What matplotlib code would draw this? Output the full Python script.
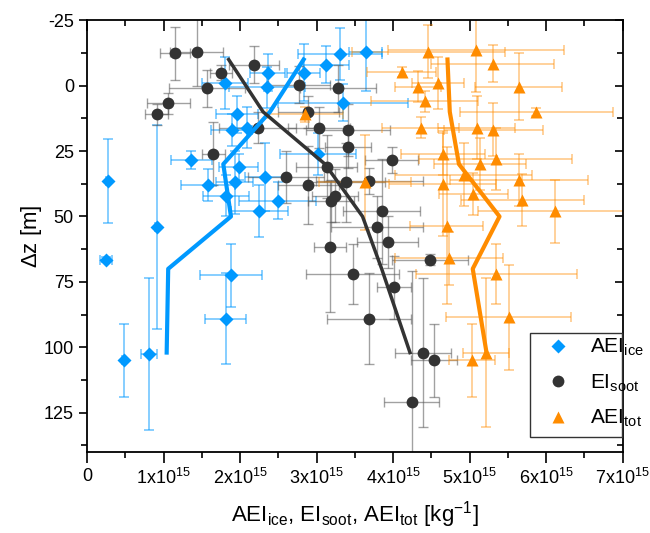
import matplotlib
matplotlib.use("Agg")
import matplotlib.pyplot as plt
from matplotlib.patches import Rectangle
import numpy as np

plt.rcParams['font.family'] = ['Liberation Sans', 'DejaVu Sans']
plt.rcParams['mathtext.fontset'] = 'custom'
plt.rcParams['mathtext.rm'] = 'Liberation Sans'
plt.rcParams['mathtext.it'] = 'Liberation Sans'
plt.rcParams['mathtext.bf'] = 'Liberation Sans:bold'
plt.rcParams['axes.unicode_minus'] = False

# ---- data (x in units of 1e15 kg^-1, dz in m) ----
ice_x = [0.27, 0.25, 0.48, 0.81, 0.91, 1.88, 1.81, 1.36, 1.58, 1.81, 1.93, 1.98, 2.25, 2.49,
         2.32, 3.02, 1.96, 1.89, 2.09, 1.80, 2.36, 2.35, 2.83, 3.12, 3.30, 3.64, 3.34]
ice_z = [36.5, 66.5, 105, 102.5, 54, 72.5, 89, 28.5, 38, 42, 37, 31, 48, 44,
         35, 26, 11, 17, 16, -1, -5, 0.7, -5, -8, -12, -13, 6.5]
ice_xerr = [0.02, 0.08, 0.02, 0.1, 0.02, 0.41, 0.27, 0.27, 0.35, 0.3, 0.24, 0.25, 0.37, 0.5,
            0.26, 0.5, 0.28, 0.27, 0.2, 0.3, 0.23, 0.5, 0.22, 0.3, 0.55, 0.22, 0.85]
ice_zerr = [16, 1, 14, 29, 39, 12, 17.5, 3.5, 6, 8, 12, 5, 10, 7,
            13, 8, 7, 6, 8, 10, 7, 8, 11, 7, 10, 15, 7]

soot_x = [1.15, 1.43, 1.75, 1.57, 1.06, 0.91, 2.18, 2.77, 1.65, 2.23, 2.60, 2.89, 3.03, 3.13,
          3.24, 3.19, 3.28, 2.89, 3.41, 3.41, 3.98, 3.39, 3.69, 3.85, 3.79, 3.93, 3.17, 3.47,
          4.01, 3.68, 4.48, 4.39, 4.53, 4.24]
soot_z = [-12.3, -13, -5, 1, 6.8, 11, -8, -0.4, 26, 16, 35, 38, 16, 31,
          42, 44, 1, 10, 17, 23.5, 28.5, 37, 36.5, 48, 54, 59.8, 61.6, 72,
          77, 89, 66.5, 102, 105, 121]
soot_xerr = [0.2, 0.35, 0.15, 0.5, 0.28, 0.15, 0.33, 0.4, 0.15, 0.5, 0.5, 0.4, 0.4, 0.4,
             0.3, 0.3, 0.5, 0.4, 0.55, 0.3, 0.35, 0.5, 0.7, 0.5, 0.6, 0.4, 0.21, 0.61,
             0.22, 0.55, 0.5, 0.36, 0.3, 0.36]
soot_zerr = [10, 13, 3, 7, 4, 4, 7, 7, 12, 6, 10, 15, 8, 12,
             10, 8, 9, 6, 10, 8, 5, 15, 5, 20, 12, 10, 25, 11.5,
             12, 17.5, 2, 28.5, 14, 50]

tot_x = [4.46, 5.08, 5.30, 4.11, 4.33, 4.58, 5.64, 4.41, 5.87, 2.85, 4.36, 5.09, 5.31, 4.65,
         5.13, 5.34, 4.92, 5.64, 4.65, 5.05, 5.69, 6.11, 3.63, 4.70, 4.73, 5.35, 5.51, 5.03, 5.21]
tot_z = [-13, -13.7, -8.4, -5.3, 0.4, -1, 0.4, 6, 10, 11, 16, 16, 16.8, 26,
         30, 28, 34, 36, 37.5, 41.3, 43.7, 48, 37, 53.6, 66, 72, 88.5, 105, 102]
tot_xerr = [1.0, 1.15, 0.8, 0.45, 0.3, 0.34, 0.57, 0.7, 1.0, 0.5, 0.5, 0.5, 0.65, 0.55,
            0.6, 1.0, 0.9, 0.9, 0.7, 0.45, 0.8, 1.0, 0.6, 0.48, 0.7, 1.05, 0.82, 0.3, 0.3]
tot_zerr = [10, 16, 7, 2, 6, 10, 12.7, 4, 1.5, 3, 4, 12, 10, 8,
            10, 12, 12, 10, 20, 8, 10, 12, 18, 30, 10, 11.6, 20, 14, 28.5]

# binned profiles
bin_z = [-10, 10, 30, 50, 70, 102]
ice_line = [2.83, 2.39, 1.78, 1.88, 1.06, 1.04]
soot_line = [1.85, 2.30, 3.11, 3.60, 3.85, 4.22]
tot_line = [4.71, 4.74, 4.86, 5.39, 5.04, 5.22]

xtick_vals = [0, 1, 2, 3, 4, 5, 6, 7]
xtick_labels = ['0'] + [r'%dx10$^{15}$' % v for v in xtick_vals[1:]]
ytick_vals = [-25, 0, 25, 50, 75, 100, 125]

c_ice = '#0099FF'
c_soot = '#333333'
c_tot = '#FF8C00'

W, H = 650, 533
fig = plt.figure(figsize=(6.5, 5.33), dpi=100)
ax = fig.add_axes([0.134, 0.152, 0.824, 0.810])

ax.errorbar(ice_x, ice_z, xerr=ice_xerr, yerr=ice_zerr, fmt='none', ecolor=c_ice,
            alpha=0.6, elinewidth=1.1, capsize=3.5, capthick=1.1, zorder=2)
ax.errorbar(soot_x, soot_z, xerr=soot_xerr, yerr=soot_zerr, fmt='none', ecolor='#555555',
            alpha=0.55, elinewidth=1.0, capsize=3.5, capthick=1.0, zorder=2)
ax.errorbar(tot_x, tot_z, xerr=tot_xerr, yerr=tot_zerr, fmt='none', ecolor=c_tot,
            alpha=0.5, elinewidth=1.1, capsize=3.5, capthick=1.1, zorder=2)

ax.plot(ice_x, ice_z, 'D', color=c_ice, ms=7, mec='none', zorder=3,
        label=r'AEI$_\mathregular{ice}$')
ax.plot(soot_x, soot_z, 'o', color=c_soot, ms=8.5, mec='none', zorder=3,
        label=r'EI$_\mathregular{soot}$')
ax.plot(tot_x, tot_z, '^', color=c_tot, ms=9, mec='none', zorder=3,
        label=r'AEI$_\mathregular{tot}$')

ax.plot(ice_line, bin_z, '-', color=c_ice, lw=3, zorder=4)
ax.plot(soot_line, bin_z, '-', color=c_soot, lw=2.5, zorder=4)
ax.plot(tot_line, bin_z, '-', color=c_tot, lw=3, zorder=4)

ax.set_xlim(0, 7)
ax.set_ylim(140, -25)
ax.set_xticks(xtick_vals)
ax.set_xticklabels(xtick_labels)
ax.set_xticks(np.arange(0.5, 7, 1.0), minor=True)
ax.set_yticks(ytick_vals)
ax.set_yticks(np.arange(-12.5, 140, 25), minor=True)

ax.tick_params(axis='both', which='both', labelsize=13, width=1.2)
ax.tick_params(axis='x', which='major', direction='out', length=8, top=True)
ax.tick_params(axis='x', which='minor', direction='out', length=4, top=True)
ax.tick_params(axis='y', which='major', direction='out', length=6, right=True)
ax.tick_params(axis='y', which='minor', direction='out', length=4, right=True)
# top/right ticks inward
for t in ax.xaxis.get_major_ticks() + ax.xaxis.get_minor_ticks():
    t.tick2line.set_marker(matplotlib.lines.TICKDOWN)
for t in ax.yaxis.get_major_ticks() + ax.yaxis.get_minor_ticks():
    t.tick2line.set_marker(matplotlib.lines.TICKLEFT)

for s in ax.spines.values():
    s.set_linewidth(1.3)

ax.set_xlabel(r'AEI$_\mathregular{ice}$, EI$_\mathregular{soot}$, AEI$_\mathregular{tot}$ [kg$^{-1}$]',
              fontsize=16, labelpad=8)
ax.set_ylabel(r'$\Delta$z [m]', fontsize=16, labelpad=0)

# legend frame (Origin-style: text overflows the box on the right)
frame = Rectangle((530 / W, 1 - 437 / H), 92 / W, 104 / H, transform=fig.transFigure,
                  facecolor='white', edgecolor='#333333', linewidth=1.0, zorder=5,
                  clip_on=False)
ax.add_patch(frame)

leg = ax.legend(loc='center left', fontsize=15, frameon=False,
                handlelength=1.0, handletextpad=1.05, borderpad=0, borderaxespad=0,
                labelspacing=0.68, bbox_to_anchor=(547.6 / W, 1 - 383 / H),
                bbox_transform=fig.transFigure)
leg.set_zorder(6)

fig.savefig('out.png', dpi=100)
